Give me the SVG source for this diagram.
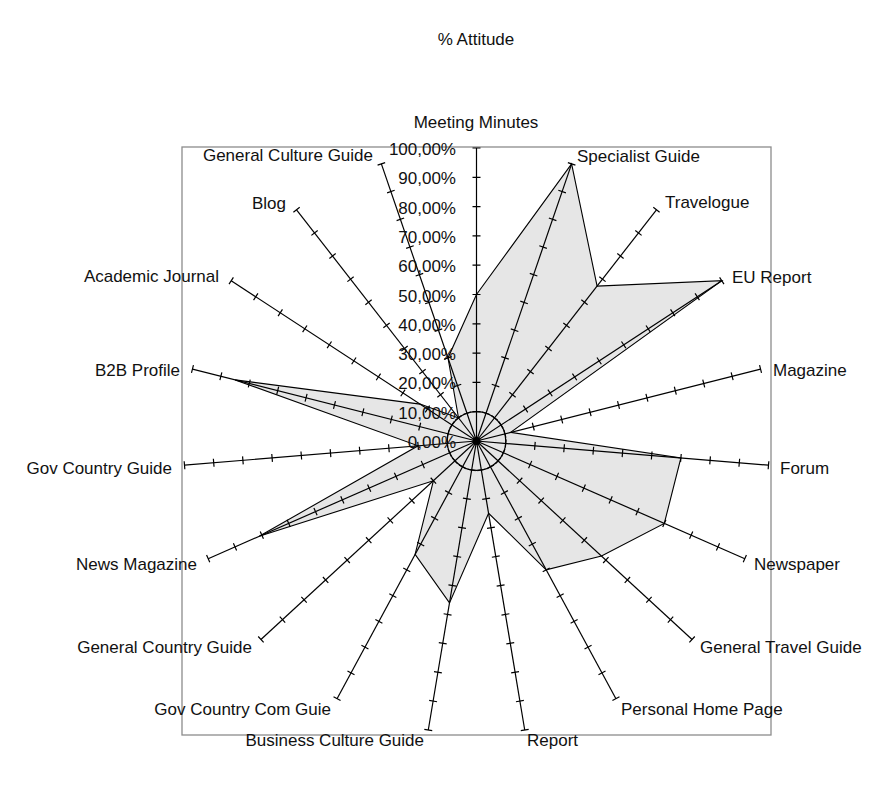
<svg xmlns="http://www.w3.org/2000/svg" xmlns:xlink="http://www.w3.org/1999/xlink" width="872" height="793" viewBox="0 0 872 793">
  <style>
    text { font-family: "Liberation Sans", Arial, sans-serif; font-size: 17px; fill: #111; }
    .end { text-anchor: end; }
    .mid { text-anchor: middle; }
    .spoke line, .spoke path { stroke: #000; stroke-width: 1.2; fill: none; }
    .series { fill: #e6e6e6; stroke: #000; stroke-width: 1.1; stroke-linejoin: miter; }
    .frame { fill: none; stroke: #8c8c8c; stroke-width: 1.3; }
  </style>
  <defs>
    <!-- one radial axis with a tick every 10 % (100 % tick is the end cap) -->
    <g id="spoke" class="spoke">
      <line x1="476.5" y1="441" x2="476.5" y2="148"/>
      <path d="M472.5 411.7h8M472.5 382.4h8M472.5 353.1h8M472.5 323.8h8M472.5 294.5h8M472.5 265.2h8M472.5 235.9h8M472.5 206.6h8M472.5 177.3h8M472.5 148h8"/>
    </g>
  </defs>

  <rect width="872" height="793" fill="#fff"/>

  <!-- chart title -->
  <text id="title" x="476" y="45" class="mid">% Attitude</text>

  <!-- plot area frame -->
  <rect class="frame" x="182" y="147" width="589" height="588"/>

  <!-- data series -->
  <g id="series">
    <polygon class="series" points="476.5,294.5 571.6,163.9 597.1,286.1 721.8,280.7 510.6,432.4 680.9,457.9 664.3,523.4 601.5,556.1 546.2,569.8 488.6,513.3 449.5,602.9 415.1,554.4 433.4,480.7 259.2,536.3 418.1,445.8 235.1,379.9 420.1,404.1 458.5,417.9 448,357.9"/>
  </g>

  <!-- radial axes -->
  <g id="axes">
    <use xlink:href="#spoke"/>
    <use xlink:href="#spoke" transform="rotate(18.947 476.5 441)"/>
    <use xlink:href="#spoke" transform="rotate(37.895 476.5 441)"/>
    <use xlink:href="#spoke" transform="rotate(56.842 476.5 441)"/>
    <use xlink:href="#spoke" transform="rotate(75.789 476.5 441)"/>
    <use xlink:href="#spoke" transform="rotate(94.737 476.5 441)"/>
    <use xlink:href="#spoke" transform="rotate(113.684 476.5 441)"/>
    <use xlink:href="#spoke" transform="rotate(132.632 476.5 441)"/>
    <use xlink:href="#spoke" transform="rotate(151.579 476.5 441)"/>
    <use xlink:href="#spoke" transform="rotate(170.526 476.5 441)"/>
    <use xlink:href="#spoke" transform="rotate(189.474 476.5 441)"/>
    <use xlink:href="#spoke" transform="rotate(208.421 476.5 441)"/>
    <use xlink:href="#spoke" transform="rotate(227.368 476.5 441)"/>
    <use xlink:href="#spoke" transform="rotate(246.316 476.5 441)"/>
    <use xlink:href="#spoke" transform="rotate(265.263 476.5 441)"/>
    <use xlink:href="#spoke" transform="rotate(284.211 476.5 441)"/>
    <use xlink:href="#spoke" transform="rotate(303.158 476.5 441)"/>
    <use xlink:href="#spoke" transform="rotate(322.105 476.5 441)"/>
    <use xlink:href="#spoke" transform="rotate(341.053 476.5 441)"/>
    <circle cx="476.5" cy="441" r="29.3" fill="none" stroke="#000" stroke-width="1.2"/>
    <circle cx="476.5" cy="441" r="4" fill="#000"/>
  </g>

  <!-- value scale -->
  <g id="scale" class="end">
    <text x="456" y="155">100,00%</text>
    <text x="456" y="184.3">90,00%</text>
    <text x="456" y="213.6">80,00%</text>
    <text x="456" y="242.9">70,00%</text>
    <text x="456" y="272.2">60,00%</text>
    <text x="456" y="301.5">50,00%</text>
    <text x="456" y="330.8">40,00%</text>
    <text x="456" y="360.1">30,00%</text>
    <text x="456" y="389.4">20,00%</text>
    <text x="456" y="418.7">10,00%</text>
    <text x="456" y="448">0,00%</text>
  </g>

  <!-- category labels -->
  <g id="categories">
    <text x="476" y="128" class="mid">Meeting Minutes</text>
    <text x="577" y="162">Specialist Guide</text>
    <text x="665" y="208">Travelogue</text>
    <text x="732" y="283">EU Report</text>
    <text x="773" y="376">Magazine</text>
    <text x="780" y="474">Forum</text>
    <text x="754" y="570">Newspaper</text>
    <text x="700" y="653">General Travel Guide</text>
    <text x="621" y="715">Personal Home Page</text>
    <text x="527" y="746">Report</text>
    <text x="424" y="746" class="end">Business Culture Guide</text>
    <text x="331" y="715" class="end">Gov Country Com Guie</text>
    <text x="252" y="653" class="end">General Country Guide</text>
    <text x="197" y="570" class="end">News Magazine</text>
    <text x="172" y="474" class="end">Gov Country Guide</text>
    <text x="180" y="376" class="end">B2B Profile</text>
    <text x="219" y="282" class="end">Academic Journal</text>
    <text x="286" y="209" class="end">Blog</text>
    <text x="373" y="161" class="end">General Culture Guide</text>
  </g>
</svg>
